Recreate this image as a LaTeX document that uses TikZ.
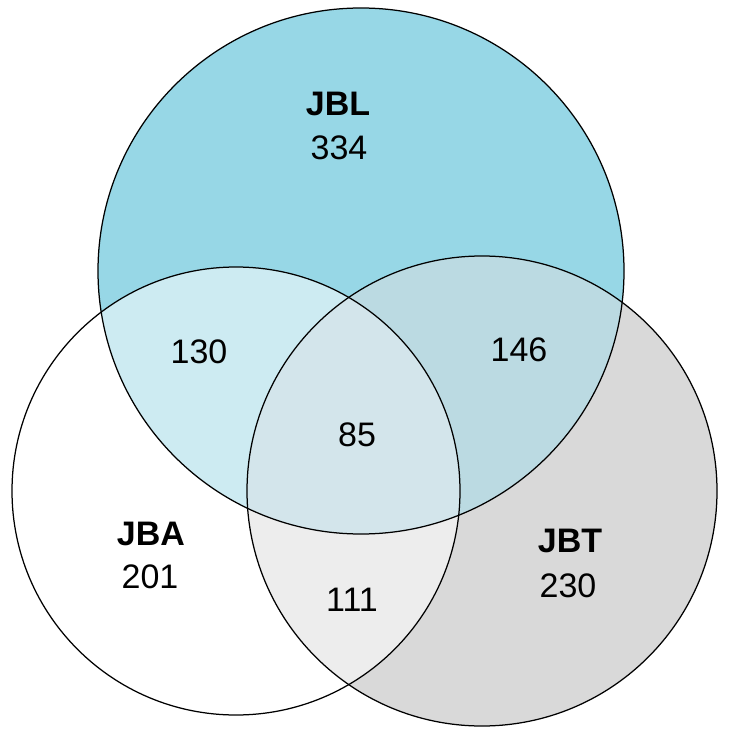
\documentclass[tikz,border=0pt]{standalone}
\usepackage{fontspec}
\setmainfont{Liberation Sans}
\usetikzlibrary{positioning}

\definecolor{onlyL}{HTML}{97D7E6}
\definecolor{onlyT}{HTML}{D9D9D9}
\definecolor{bothLA}{HTML}{CDEBF2}
\definecolor{bothLT}{HTML}{BBDAE2}
\definecolor{bothAT}{HTML}{EDEDED}
\definecolor{allLAT}{HTML}{D3E5EB}

\begin{document}
\begin{tikzpicture}[x=1pt,y=-1pt,
    setline/.style={draw=black,line width=1.25pt},
    setname/.style={font=\fontsize{34}{40}\selectfont\bfseries},
    setcount/.style={font=\fontsize{34}{40}\selectfont}]
    \useasboundingbox (0,0) rectangle (734,746);

    % centres
    \coordinate (cL) at (361,271);
    \coordinate (cA) at (236,491);
    \coordinate (cT) at (482,491);

    % fills
    \fill[onlyL] (cL) circle [radius=263pt];
    \fill[onlyT] (cT) circle [radius=235pt];
    \begin{scope}
      \clip (cL) circle [radius=263pt];
      \fill[bothLT] (cT) circle [radius=235pt];
    \end{scope}
    \fill[white] (cA) circle [radius=224pt];
    \begin{scope}
      \clip (cA) circle [radius=224pt];
      \fill[bothLA] (cL) circle [radius=263pt];
      \fill[bothAT] (cT) circle [radius=235pt];
      \clip (cL) circle [radius=263pt];
      \fill[allLAT] (cT) circle [radius=235pt];
    \end{scope}

    % circles
    \draw[setline] (cL) circle [radius=263pt];
    \draw[setline] (cA) circle [radius=224pt];
    \draw[setline] (cT) circle [radius=235pt];

    % labels
    \node[setname] (nameL) at (338,104) {JBL};
    \node[setcount] (countL) at (339,148) {334};
    \node[setname] (nameA) at (151,534) {JBA};
    \node[setcount] (countA) at (150,577) {201};
    \node[setname] (nameT) at (570,541) {JBT};
    \node[setcount] (countT) at (568,586) {230};

    \node[setcount] (countLA) at (199,352) {130};
    \node[setcount] (countLT) at (519,350) {146};
    \node[setcount] (countLAT) at (357,435) {85};
    \node[setcount] (countAT) at (352,600) {111};
  \end{tikzpicture}
\end{document}
